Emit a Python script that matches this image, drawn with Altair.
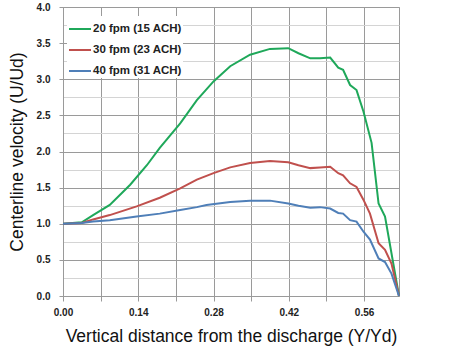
import altair as alt
import pandas as pd

series_names = ["20 fpm (15 ACH)", "30 fpm (23 ACH)", "40 fpm (31 ACH)"]
series_colors = ["#1FA85A", "#C0504D", "#4F7FB8"]

x_20 = [0.000, 0.035, 0.056, 0.087, 0.125, 0.156, 0.180, 0.218, 0.249, 0.280, 0.311, 0.348,
        0.385, 0.419, 0.438, 0.460, 0.478, 0.497, 0.512, 0.521, 0.534, 0.546, 0.559, 0.574,
        0.587, 0.599, 0.625]
y_20 = [1.00, 1.02, 1.12, 1.26, 1.54, 1.81, 2.05, 2.39, 2.71, 2.97, 3.18, 3.34,
        3.42, 3.43, 3.36, 3.29, 3.29, 3.30, 3.16, 3.13, 2.92, 2.85, 2.55, 2.12,
        1.28, 1.10, 0.00]

x_30 = [0.000, 0.035, 0.056, 0.087, 0.137, 0.180, 0.218, 0.249, 0.280, 0.311, 0.348, 0.385,
        0.419, 0.438, 0.460, 0.478, 0.497, 0.512, 0.521, 0.534, 0.546, 0.559, 0.571, 0.587,
        0.599, 0.611, 0.625]
y_30 = [1.00, 1.01, 1.06, 1.12, 1.24, 1.36, 1.49, 1.61, 1.70, 1.78, 1.84, 1.87,
        1.85, 1.81, 1.77, 1.78, 1.79, 1.70, 1.67, 1.56, 1.51, 1.33, 1.14, 0.73,
        0.64, 0.45, 0.00]

x_40 = [0.000, 0.035, 0.056, 0.087, 0.137, 0.180, 0.218, 0.249, 0.267, 0.311, 0.348, 0.385,
        0.419, 0.438, 0.460, 0.478, 0.497, 0.512, 0.521, 0.534, 0.546, 0.559, 0.571, 0.587,
        0.599, 0.611, 0.625]
y_40 = [1.00, 1.01, 1.03, 1.05, 1.10, 1.14, 1.19, 1.23, 1.26, 1.30, 1.32, 1.32,
        1.28, 1.25, 1.22, 1.23, 1.21, 1.15, 1.14, 1.05, 1.03, 0.89, 0.78, 0.52,
        0.47, 0.31, 0.00]

x_ticks = [0.0, 0.07, 0.14, 0.21, 0.28, 0.35, 0.42, 0.49, 0.56]
y_ticks = [0.0, 0.25, 0.5, 0.75, 1.0, 1.25, 1.5, 1.75, 2.0, 2.25, 2.5, 2.75, 3.0, 3.25, 3.5, 3.75, 4.0]

rows = []
for name, xs, ys in zip(series_names, [x_20, x_30, x_40], [y_20, y_30, y_40]):
    for i, (xv, yv) in enumerate(zip(xs, ys)):
        rows.append({"series": name, "x": xv, "y": yv, "order": i})
df = pd.DataFrame(rows)

FONT = "Liberation Sans"

chart = alt.Chart(df).mark_line(strokeWidth=2).encode(
    x=alt.X("x:Q",
            scale=alt.Scale(domain=[0, 0.625], nice=False, zero=False),
            axis=alt.Axis(values=x_ticks,
                          labelExpr="round(datum.value*100) % 14 == 0 ? format(datum.value, '.2f') : ''",
                          title="Vertical distance from the discharge (Y/Yd)",
                          grid=True, gridColor="#9a9a9a", gridWidth=1,
                          domainColor="#9a9a9a", tickColor="#9a9a9a", tickSize=5,
                          labelFlush=False, labelOverlap=False,
                          labelFont=FONT, labelFontWeight="bold", labelFontSize=10,
                          labelColor="#222222", labelPadding=6,
                          titleFont=FONT, titleFontWeight="normal", titleFontSize=17.5,
                          titleColor="#111111", titlePadding=10)),
    y=alt.Y("y:Q",
            scale=alt.Scale(domain=[0, 4], nice=False),
            axis=alt.Axis(values=y_ticks,
                          labelExpr="round(datum.value*4) % 2 == 0 ? format(datum.value, '.1f') : ''",
                          title="Centerline velocity (U/Ud)",
                          grid=True,
                          gridColor={"condition": {"test": "round(datum.value*4) % 2 == 0", "value": "#9a9a9a"},
                                     "value": "#d4d4d4"},
                          tickOpacity={"condition": {"test": "round(datum.value*4) % 2 == 0", "value": 1},
                                       "value": 0},
                          domainColor="#9a9a9a", tickColor="#9a9a9a", tickSize=4,
                          labelFlush=False, labelOverlap=False,
                          labelFont=FONT, labelFontWeight="bold", labelFontSize=10,
                          labelColor="#222222", labelPadding=9,
                          titleFont=FONT, titleFontWeight="normal", titleFontSize=17.5,
                          titleColor="#111111", titlePadding=10)),
    color=alt.Color("series:N",
                    scale=alt.Scale(domain=series_names, range=series_colors),
                    legend=alt.Legend(title=None, orient="none", legendX=4, legendY=9,
                                      symbolType="stroke", symbolSize=484, symbolStrokeWidth=2,
                                      labelFont=FONT, labelFontWeight="bold", labelFontSize=11.5,
                                      labelColor="#222222", labelOffset=1, rowPadding=3,
                                      padding=1, fillColor="white")),
    order="order:Q",
).properties(
    width=336, height=289,
    autosize=alt.AutoSizeParams(type="none"),
    padding={"left": 63, "top": 7, "right": 54, "bottom": 55},
).configure_view(stroke="#9a9a9a", strokeWidth=1)

chart.save("out.html", embed_options={"renderer": "svg", "actions": False})
